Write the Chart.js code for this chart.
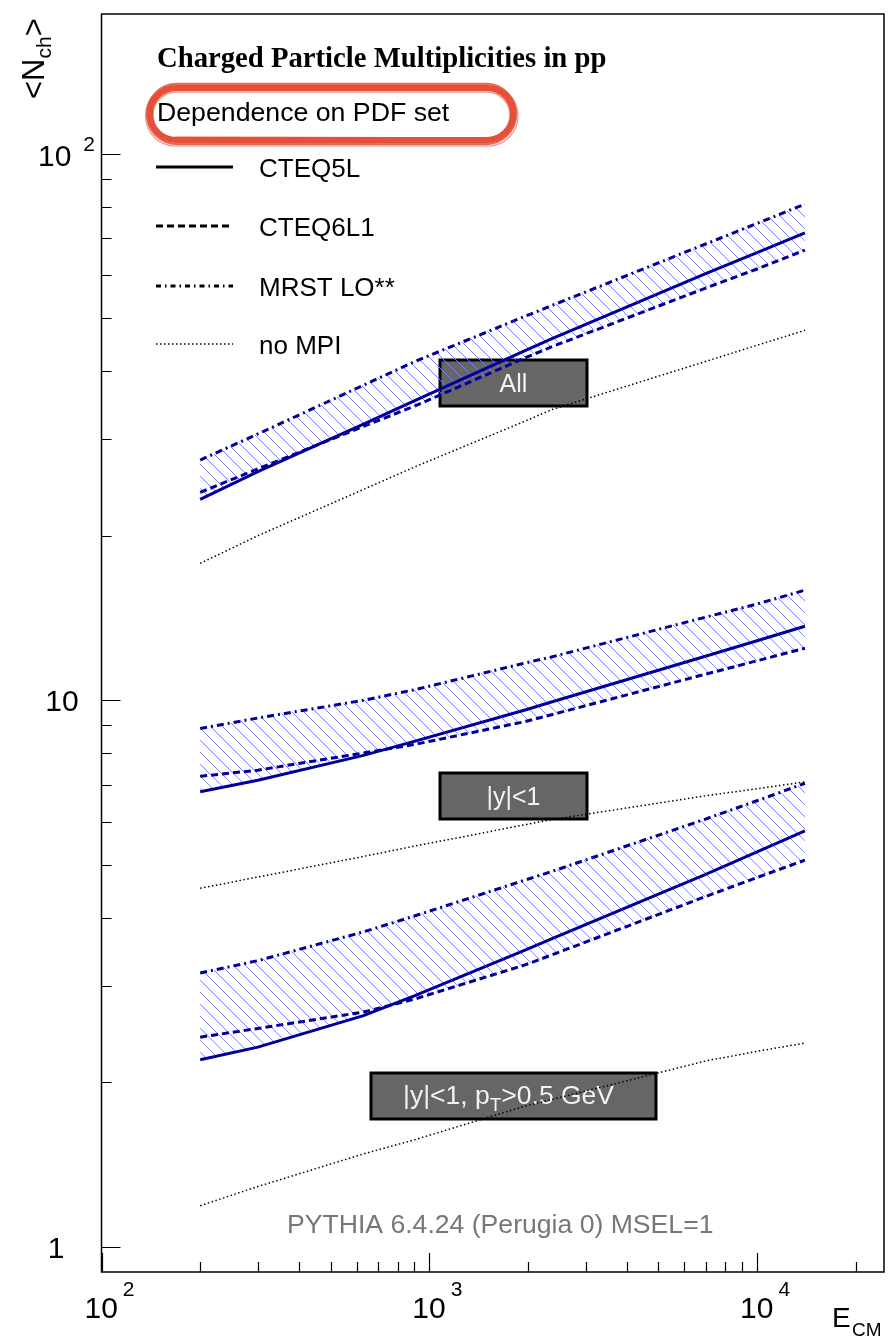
<!DOCTYPE html>
<html>
<head>
<meta charset="utf-8">
<script src="https://cdn.jsdelivr.net/npm/chart.js@4.4.0/dist/chart.umd.min.js"></script>
<style>
  html, body { margin: 0; padding: 0; background: #fff; }
  #c { display: block; }
</style>
</head>
<body>
<canvas id="c" width="888" height="1338"></canvas>
<script>
// ── data ──
const energies = [200, 300, 630, 900, 1960, 2360, 7000, 10000, 14000];

const allMrst    = [27.5, 30.7, 37.7, 41.6, 50.4, 52.7, 68.4, 74.5, 80.8];
const allCteq5l  = [23.3, 26.2, 32.0, 35.3, 43.6, 45.8, 60.4, 65.9, 71.6];
const allCteq6l1 = [24.0, 26.5, 31.7, 34.5, 42.3, 44.3, 56.8, 61.5, 66.6];
const allNoMpi   = [17.8, 20.0, 24.3, 26.7, 32.4, 34.0, 41.7, 44.6, 47.5];

const y1Mrst    = [8.88, 9.28, 10.0, 10.45, 11.7, 12.0, 14.2, 15.0, 15.9];
const y1Cteq5l  = [6.80, 7.14, 7.93, 8.41, 9.60, 9.93, 12.05, 12.85, 13.66];
const y1Cteq6l1 = [7.26, 7.45, 8.01, 8.30, 9.14, 9.41, 11.17, 11.81, 12.45];
const y1NoMpi   = [4.53, 4.75, 5.18, 5.41, 5.92, 6.05, 6.69, 6.89, 7.09];

const ptMrst    = [3.17, 3.34, 3.77, 4.03, 4.69, 4.86, 6.07, 6.55, 7.05];
const ptCteq5l  = [2.20, 2.32, 2.65, 2.88, 3.49, 3.66, 4.81, 5.28, 5.77];
const ptCteq6l1 = [2.42, 2.51, 2.69, 2.84, 3.28, 3.42, 4.38, 4.74, 5.10];
const ptNoMpi   = [1.19, 1.29, 1.48, 1.57, 1.81, 1.86, 2.19, 2.28, 2.36];

const seriesNames = ['CTEQ5L', 'CTEQ6L1', 'MRST LO**', 'no MPI'];
const xMajorTicks = [100, 1000, 10000];
const yMajorTicks = [1, 10, 100];

const BLUE = '#000099';
const DASH = [7, 4];
const DASHDOT = [7, 4, 2, 4];
const DOT = [1.5, 2.5];
const SANS = '"Liberation Sans", Arial, sans-serif';

// hatch pattern for the PDF band
const hatch = (() => {
  const s = 12;
  const c = document.createElement('canvas');
  c.width = s; c.height = s;
  const g = c.getContext('2d');
  g.strokeStyle = '#7c7cfa';
  g.lineWidth = 0.9;
  g.beginPath();
  g.moveTo(-1, -1); g.lineTo(s + 1, s + 1);
  g.moveTo(-1, s - 1); g.lineTo(1, s + 1);
  g.moveTo(s - 1, -1); g.lineTo(s + 1, 1);
  g.stroke();
  return g.createPattern(c, 'repeat');
})();

const pts = vals => energies.map((e, i) => ({ x: e, y: vals[i] }));

function groupSets(mrst, c5, c6, nompi) {
  return [
    { label: 'MRST LO**', data: pts(mrst), borderColor: BLUE, borderWidth: 3, borderDash: DASHDOT, fill: false },
    { label: 'CTEQ5L', data: pts(c5), borderColor: BLUE, borderWidth: 3, fill: '-1', backgroundColor: hatch },
    { label: 'CTEQ6L1', data: pts(c6), borderColor: BLUE, borderWidth: 3, borderDash: DASH, fill: '-2', backgroundColor: hatch },
    { label: 'no MPI', data: pts(nompi), borderColor: '#000', borderWidth: 1.5, borderDash: DOT, fill: false },
  ];
}

// ── text boxes, red marker, frame, ticks, legend ──
function grayBox(ctx, x0, y0, x1, y1) {
  ctx.fillStyle = '#666666';
  ctx.fillRect(x0, y0, x1 - x0, y1 - y0);
  ctx.strokeStyle = '#000';
  ctx.lineWidth = 3;
  ctx.strokeRect(x0, y0, x1 - x0, y1 - y0);
}

function stadium(ctx, x0, y0, x1, y1, r) {
  ctx.beginPath();
  ctx.moveTo(x0 + r, y0);
  ctx.lineTo(x1 - r, y0);
  ctx.arc(x1 - r, y0 + r, r, -Math.PI / 2, Math.PI / 2);
  ctx.lineTo(x0 + r, y1);
  ctx.arc(x0 + r, y0 + r, r, Math.PI / 2, Math.PI * 1.5);
  ctx.closePath();
}

const decor = {
  id: 'decor',
  beforeDraw(chart) {
    const ctx = chart.ctx;
    ctx.save();
    // label boxes sit under the curves
    grayBox(ctx, 440, 360, 587, 406);
    grayBox(ctx, 440, 773, 587, 819);
    grayBox(ctx, 371, 1073, 656, 1119);
    ctx.fillStyle = '#f2f2f2';
    ctx.font = '25px ' + SANS;
    ctx.textAlign = 'center';
    ctx.textBaseline = 'alphabetic';
    ctx.fillText('All', 513.5, 392);
    ctx.fillText('|y|<1', 513.5, 805);
    ctx.textAlign = 'left';
    let x = 403;
    const y = 1104;
    ctx.font = '26.5px ' + SANS;
    ctx.fillText('|y|<1, p', x, y);
    x += ctx.measureText('|y|<1, p').width;
    ctx.font = '19px ' + SANS;
    ctx.fillText('T', x, y + 7);
    x += ctx.measureText('T').width;
    ctx.font = '26.5px ' + SANS;
    ctx.fillText('>0.5 GeV', x, y);
    ctx.restore();
  },
  afterDraw(chart) {
    const ctx = chart.ctx;
    const { left, right, top, bottom } = chart.chartArea;
    const xs = chart.scales.x, ys = chart.scales.y;
    ctx.save();

    // frame
    ctx.strokeStyle = '#000';
    ctx.lineWidth = 1.5;
    ctx.strokeRect(left, top, right - left, bottom - top);

    // ticks, pointing inwards
    ctx.lineWidth = 1.2;
    ctx.beginPath();
    for (let d = 100; d <= 10000; d *= 10) {
      for (let m = 1; m <= 9; m++) {
        const v = d * m;
        if (v < xs.min || v > xs.max) continue;
        const px = Math.round(xs.getPixelForValue(v)) + 0.5;
        const len = m === 1 ? 19 : 10;
        ctx.moveTo(px, bottom); ctx.lineTo(px, bottom - len);
      }
    }
    for (let d = 1; d <= 100; d *= 10) {
      for (let m = 1; m <= 9; m++) {
        const v = d * m;
        if (v < ys.min || v > ys.max) continue;
        const py = Math.round(ys.getPixelForValue(v)) + 0.5;
        const len = m === 1 ? 19 : 10;
        ctx.moveTo(left, py); ctx.lineTo(left + len, py);
      }
    }
    ctx.stroke();

    // x tick labels
    ctx.fillStyle = '#000';
    ctx.textBaseline = 'alphabetic';
    ctx.textAlign = 'left';
    xMajorTicks.forEach(v => {
      const px = xs.getPixelForValue(v);
      ctx.font = '30px ' + SANS;
      ctx.fillText('10', px - 17, 1318);
      const w = ctx.measureText('10').width;
      ctx.font = '21px ' + SANS;
      ctx.fillText(String(Math.round(Math.log10(v))), px - 17 + w + 5, 1296);
    });

    // y tick labels
    yMajorTicks.forEach(v => {
      const py = ys.getPixelForValue(v);
      ctx.font = '30px ' + SANS;
      if (v === 100) {
        ctx.fillText('10', 38, py + 12);
        const w = ctx.measureText('10').width;
        ctx.font = '21px ' + SANS;
        ctx.fillText('2', 38 + w + 12, py - 3);
      } else {
        ctx.textAlign = 'center';
        ctx.fillText(String(v), v === 10 ? 62 : 56, py + 11);
        ctx.textAlign = 'left';
      }
    });

    // axis titles
    ctx.font = '28px ' + SANS;
    ctx.fillText('E', 832, 1327);
    ctx.font = '19px ' + SANS;
    ctx.fillText('CM', 852, 1336);

    ctx.save();
    ctx.translate(44, 99);
    ctx.rotate(-Math.PI / 2);
    ctx.font = '31px ' + SANS;
    ctx.fillText('<N', 0, 0);
    let tx = ctx.measureText('<N').width;
    ctx.font = '21px ' + SANS;
    ctx.fillText('ch', tx, 7);
    tx += ctx.measureText('ch').width;
    ctx.font = '31px ' + SANS;
    ctx.fillText('>', tx, 0);
    ctx.restore();

    // title
    ctx.font = 'bold 28.7px "Liberation Serif", "Times New Roman", serif';
    ctx.fillText('Charged Particle Multiplicities in pp', 157, 67);

    // red hand-drawn marker around the subtitle
    ctx.strokeStyle = '#e5503a';
    ctx.lineWidth = 6;
    stadium(ctx, 150, 88, 513, 140, 26);
    ctx.stroke();
    ctx.lineWidth = 2.5;
    ctx.globalAlpha = 0.85;
    stadium(ctx, 147, 84, 516, 144, 30);
    ctx.stroke();
    ctx.globalAlpha = 0.6;
    ctx.lineWidth = 1.5;
    stadium(ctx, 153, 92, 510, 137, 23);
    ctx.stroke();
    ctx.lineWidth = 1.2;
    stadium(ctx, 145.5, 86, 518, 146, 30);
    ctx.stroke();
    ctx.globalAlpha = 1;

    ctx.fillStyle = '#000';
    ctx.font = '26.7px ' + SANS;
    ctx.fillText('Dependence on PDF set', 157, 121);

    // legend
    const rows = [167, 226, 286, 344];
    const styles = [
      { w: 3.2, dash: [] },
      { w: 3.2, dash: [7, 4] },
      { w: 3.2, dash: [5, 4, 1.5, 4] },
      { w: 1.3, dash: [1.5, 2.5] },
    ];
    seriesNames.forEach((name, i) => {
      ctx.strokeStyle = '#000';
      ctx.lineWidth = styles[i].w;
      ctx.setLineDash(styles[i].dash);
      ctx.beginPath();
      ctx.moveTo(156, rows[i]); ctx.lineTo(233, rows[i]);
      ctx.stroke();
      ctx.setLineDash([]);
      ctx.fillStyle = '#000';
      ctx.font = '26px ' + SANS;
      ctx.fillText(name, 259, rows[i] + 10);
    });

    // generator note
    ctx.fillStyle = '#777';
    ctx.font = '26.6px ' + SANS;
    ctx.fillText('PYTHIA 6.4.24 (Perugia 0) MSEL=1', 287, 1233);

    ctx.restore();
  }
};

new Chart(document.getElementById('c'), {
  type: 'line',
  data: {
    datasets: [
      ...groupSets(allMrst, allCteq5l, allCteq6l1, allNoMpi),
      ...groupSets(y1Mrst, y1Cteq5l, y1Cteq6l1, y1NoMpi),
      ...groupSets(ptMrst, ptCteq5l, ptCteq6l1, ptNoMpi),
    ]
  },
  options: {
    responsive: false,
    animation: false,
    devicePixelRatio: 1,
    layout: { padding: { left: 101.5, top: 14, right: 4, bottom: 66 } },
    elements: { point: { radius: 0 }, line: { tension: 0 } },
    plugins: {
      legend: { display: false },
      tooltip: { enabled: false },
      filler: { drawTime: 'beforeDatasetsDraw' }
    },
    scales: {
      x: { type: 'logarithmic', min: 100, max: 24400, display: false },
      y: { type: 'logarithmic', min: 0.9, max: 180, display: false }
    }
  },
  plugins: [decor]
});
</script>
</body>
</html>
